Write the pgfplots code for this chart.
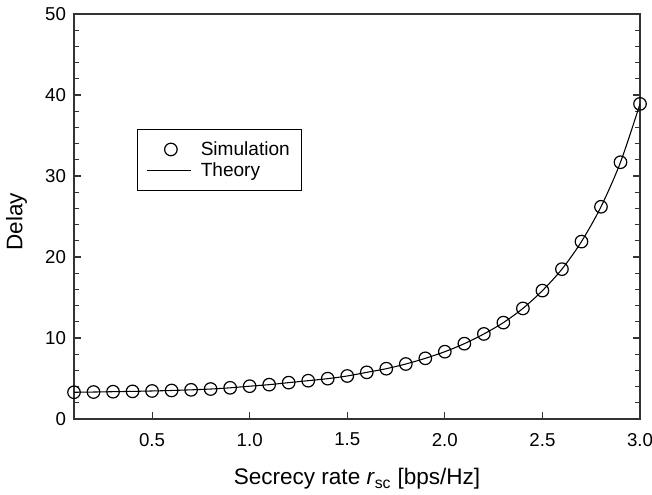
\documentclass[border=0pt]{standalone}
\usepackage{fontspec}
\setmainfont{Liberation Sans}
\usepackage{pgfplots}
\pgfplotsset{compat=1.18}
\pgfplotsset{
  mymarkleg/.style={legend image code/.code={\draw[##1] plot coordinates {(18pt,0pt)};}},
  mylineleg/.style={legend image code/.code={\draw[##1] (0pt,0pt) -- (33pt,0pt);}},
}
\begin{document}
\begin{tikzpicture}
\begin{axis}[
  scale only axis,
  width=424.5pt, height=303.75pt,
  xmin=0.1, xmax=3.0, ymin=0, ymax=50,
  xtick={0.5,1.0,1.5,2.0,2.5,3.0},
  ytick={0,10,20,30,40,50},
  minor ytick={2,4,6,8,12,14,16,18,22,24,26,28,32,34,36,38,42,44,46,48},
  xtick pos=lower, ytick pos=both,
  tick align=inside,
  major tick length=5.5pt, minor tick length=3.75pt,
  every tick/.style={black!80, line width=0.8pt},
  axis line style={black!80, line width=1pt},
  /pgf/number format/assume math mode=true,
  xticklabel style={/pgf/number format/fixed, /pgf/number format/fixed zerofill, /pgf/number format/precision=1, yshift=-7pt},
  yticklabel style={xshift=-2.5pt},
  ticklabel style={font=\fontsize{14}{16.8}\selectfont},
  label style={font=\fontsize{16.9}{20}\selectfont},
  xlabel={Secrecy rate \textit{r}\textsubscript{sc} [bps/Hz]},
  ylabel={Delay},
  xlabel style={at={([yshift=-45pt]axis description cs:0.5,0)}, anchor=center},
  ylabel style={at={([xshift=-43pt,yshift=-4pt]axis description cs:0,0.5)}, anchor=center},
  legend style={at={(0.111,0.716)}, anchor=north west, draw=black, line width=0.8pt,
    font=\fontsize{14.3}{17}\selectfont, inner xsep=6.75pt, inner ysep=7pt,
    row sep=0pt, cells={anchor=west},
    /tikz/every odd column/.append style={column sep=5pt}},
  legend cell align=left,
]
\addplot[only marks, mark=o, mark size=4.7pt, line width=0.9pt, black, mymarkleg]
  table {
x y
0.1 3.30
0.2 3.33
0.3 3.37
0.4 3.41
0.5 3.46
0.6 3.52
0.7 3.60
0.8 3.70
0.9 3.85
1.0 4.05
1.1 4.24
1.2 4.49
1.3 4.73
1.4 4.98
1.5 5.31
1.6 5.76
1.7 6.21
1.8 6.79
1.9 7.49
2.0 8.31
2.1 9.30
2.2 10.50
2.3 11.90
2.4 13.65
2.5 15.85
2.6 18.50
2.7 21.90
2.8 26.20
2.9 31.70
3.0 38.90
};
\addlegendentry{Simulation}
\addplot[no marks, smooth, black, line width=0.8pt, mylineleg]
  table {
x y
0.1 3.30
0.2 3.33
0.3 3.37
0.4 3.41
0.5 3.46
0.6 3.52
0.7 3.60
0.8 3.70
0.9 3.85
1.0 4.05
1.1 4.24
1.2 4.49
1.3 4.73
1.4 4.98
1.5 5.31
1.6 5.76
1.7 6.21
1.8 6.79
1.9 7.49
2.0 8.31
2.1 9.30
2.2 10.50
2.3 11.90
2.4 13.65
2.5 15.85
2.6 18.50
2.7 21.90
2.8 26.20
2.9 31.70
3.0 38.90
};
\addlegendentry{Theory}
\end{axis}
\pgfresetboundingbox
\path ([xshift=-55.5pt,yshift=-57pt]current axis.south west) rectangle ([xshift=9pt,yshift=10.5pt]current axis.north east);
\end{tikzpicture}
\end{document}
